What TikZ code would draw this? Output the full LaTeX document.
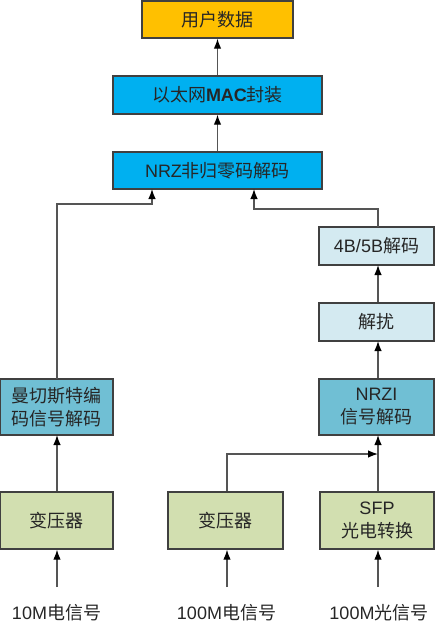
\documentclass[tikz,border=0pt]{standalone}
\usepackage{fontspec}
\setmainfont{Noto Sans CJK SC}
\newfontfamily\lat{Liberation Sans}
\usetikzlibrary{arrows.meta}
\definecolor{bordc}{HTML}{404040}
\definecolor{orangec}{HTML}{FFC000}
\definecolor{bluec}{HTML}{00B0F0}
\definecolor{lightc}{HTML}{D4EAF1}
\definecolor{tealc}{HTML}{70BFD4}
\definecolor{greenc}{HTML}{D2DFB0}
\definecolor{linec}{HTML}{555555}
\tikzset{
  box/.style={draw=bordc, line width=1.3pt, inner sep=0pt, align=center,
    font=\fontsize{18}{23}\selectfont, text=black!85},
  conn/.style={draw=linec, line width=1.3pt, -{Latex[length=10pt,width=7.5pt,color=black]}},
  lbl/.style={font=\fontsize{18}{23}\selectfont, inner sep=0pt, text=black!85}
}
\begin{document}
\begin{tikzpicture}[x=1pt,y=-1pt]
\useasboundingbox (0,0) rectangle (435,627);
\node[box, fill=orangec, minimum width=151pt, minimum height=37pt] (ud) at (217.5,19.5) {用户数据};
\node[box, fill=bluec, minimum width=209pt, minimum height=38pt] (mac) at (217.5,95) {以太网{\lat\bfseries MAC}封装};
\node[box, fill=bluec, minimum width=209pt, minimum height=37pt] (nrz) at (217.5,170.5) {{\lat NRZ}非归零码解码};
\node[box, fill=lightc, minimum width=115pt, minimum height=38pt] (b45) at (376.5,246) {{\lat 4B/5B}解码};
\node[box, fill=lightc, minimum width=115pt, minimum height=38pt] (jr) at (376.5,322) {解扰};
\node[box, fill=tealc, minimum width=115pt, minimum height=56pt] (nrzi) at (376.5,407) {{\lat NRZI}\\信号解码};
\node[box, fill=tealc, minimum width=113pt, minimum height=56pt] (man) at (56.5,407) {曼切斯特编\\码信号解码};
\node[box, fill=greenc, minimum width=113pt, minimum height=57pt] (t1) at (56.5,520.5) {变压器};
\node[box, fill=greenc, minimum width=115pt, minimum height=57pt] (t2) at (225.5,520.5) {变压器};
\node[box, fill=greenc, minimum width=114pt, minimum height=57pt] (sfp) at (377,520.5) {{\lat SFP}\\光电转换};
\node[lbl] (l1) at (56.5,613) {{\lat 10M}电信号};
\node[lbl] (l2) at (226.5,613) {{\lat 100M}电信号};
\node[lbl] (l3) at (379,613) {{\lat 100M}光信号};
\coordinate (s1) at (57,587);
\coordinate (s2) at (227,587);
\coordinate (s3) at (378,587);
\coordinate (j) at (378,454);
\draw[conn] (mac.north -| ud.south) -- (ud.south);
\draw[conn] (nrz.north) -- (mac.south);
\draw[conn] (57,379) |- (152,204) -- (152,189);
\draw[conn] (378,227) |- (254,209) -- (254,189);
\draw[conn] (jr.north -| 378,0) -- (378,265);
\draw[conn] (nrzi.north -| 378,0) -- (378,341);
\draw[conn] (sfp.north -| 378,0) -- (378,435);
\draw[conn] (t1.north -| 57,0) -- (57,435);
\draw[conn] (t2.north -| 227,0) |- (j);
\draw[conn] (s1) -- (s1 |- t1.south);
\draw[conn] (s2) -- (s2 |- t2.south);
\draw[conn] (s3) -- (s3 |- sfp.south);
\end{tikzpicture}
\end{document}
